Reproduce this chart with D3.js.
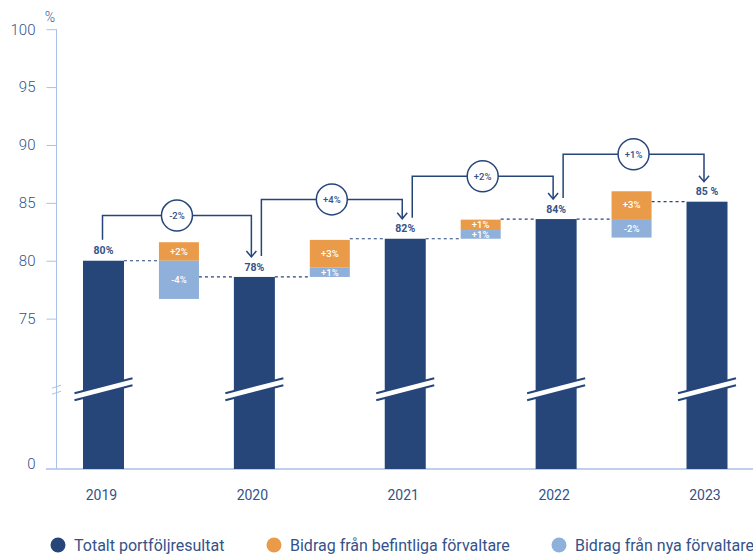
<!DOCTYPE html>
<html>
<head>
<meta charset="utf-8">
<script src="https://cdn.jsdelivr.net/npm/d3@7"></script>
<style>
  body { margin: 0; background: #fff; }
  svg { display: block; font-family: Roboto, "Noto Sans", sans-serif; }
</style>
</head>
<body>
<div id="chart"></div>
<script>
// data
const years = ['2019', '2020', '2021', '2022', '2023'];
const totals = [80.0, 78.6, 81.9, 83.6, 85.1];
const totalLabels = ['80%', '78%', '82%', '84%', '85 %'];
// contributions between two years, [from, to] in %
const existingRange = [[80.0, 81.6], [79.4, 81.8], [82.65, 83.55], [83.6, 86.0]];
const existingLabels = ['+2%', '+3%', '+1%', '+3%'];
const newRange = [[76.7, 80.0], [78.6, 79.4], [81.9, 82.65], [82.0, 83.6]];
const newLabels = ['-4%', '+1%', '+1%', '-2%'];
const changeLabels = ['-2%', '+4%', '+2%', '+1%'];
const changeLevels = [83.9, 85.3, 87.3, 89.2];
const yTicks = [0, 75, 80, 85, 90, 95, 100];
const legendItems = ['Totalt portföljresultat', 'Bidrag från befintliga förvaltare', 'Bidrag från nya förvaltare'];

const width = 753, height = 554;
const navy = '#26467a', orange = '#ea9b4a', light = '#8fb0da', axisColor = '#a9c1e6', textColor = '#34528a';
const barWidth = 41, contribWidth = 40;
const breakValue = 60;

const svg = d3.select('#chart').append('svg')
    .attr('width', width)
    .attr('height', height)
    .attr('viewBox', [0, 0, width, height]);

// broken y scale: 0 at the bottom, 70..100 stretched
const y = d3.scaleLinear().domain([0, 70, 100]).range([469, 376.5, 29.2]);
const x = d3.scalePoint().domain(years).range([103.5, 707]);
const mid = i => (x(years[i]) + x(years[i + 1])) / 2;

// y axis
const yAxis = d3.axisLeft(y).tickValues(yTicks).tickSize(10).tickPadding(11);
svg.append('g')
    .attr('transform', 'translate(56.5,0)')
    .call(yAxis)
    .call(g => g.select('.domain').attr('d', `M0,${y(100)}V${y(0)}`).attr('stroke', axisColor))
    .call(g => g.selectAll('.tick line').attr('stroke', axisColor))
    .call(g => g.selectAll('.tick text')
        .attr('fill', textColor)
        .attr('font-size', 15)
        .attr('font-weight', 300)
        .attr('font-family', 'Roboto, sans-serif')
        .attr('dy', d => d === 0 ? '-0.05em' : '0.32em'))
    .call(g => g.selectAll('.tick').filter(d => d === 0).select('line').remove());

svg.append('text')
    .attr('x', 50).attr('y', 22)
    .attr('text-anchor', 'middle')
    .attr('fill', textColor)
    .attr('font-size', 14)
    .attr('font-weight', 300)
    .text('%');

// axis break marks
const yb = y(breakValue);
[-3, 3].forEach(o => {
    svg.append('line')
        .attr('x1', 52).attr('y1', yb + o + 1.5)
        .attr('x2', 61).attr('y2', yb + o - 1.5)
        .attr('stroke', axisColor).attr('stroke-width', 1);
});

// baseline
svg.append('line')
    .attr('x1', 46).attr('x2', width)
    .attr('y1', y(0)).attr('y2', y(0))
    .attr('stroke', axisColor).attr('stroke-width', 1.5);

// dashed guides
const dash = svg.append('g')
    .attr('stroke', navy).attr('stroke-width', 1.2).attr('stroke-dasharray', '3,3');
d3.range(4).forEach(i => {
    dash.append('line')
        .attr('x1', x(years[i]) + barWidth / 2).attr('x2', mid(i) - contribWidth / 2)
        .attr('y1', y(totals[i])).attr('y2', y(totals[i]));
    dash.append('line')
        .attr('x1', mid(i) + contribWidth / 2).attr('x2', x(years[i + 1]) - barWidth / 2)
        .attr('y1', y(totals[i + 1])).attr('y2', y(totals[i + 1]));
});

// total bars
svg.append('g').attr('fill', navy)
    .selectAll('rect')
    .data(years)
    .join('rect')
    .attr('x', d => x(d) - barWidth / 2)
    .attr('width', barWidth)
    .attr('y', (d, i) => y(totals[i]))
    .attr('height', (d, i) => y(0) - y(totals[i]));

// break on each bar
years.forEach(d => {
    const cx = x(d);
    const g = svg.append('g');
    g.append('path')
        .attr('d', `M${cx - 29},${yb + 7.5}L${cx + 29},${yb - 7.5}L${cx + 29},${yb - 0.5}L${cx - 29},${yb + 14.5}Z`)
        .attr('transform', 'translate(0,-4)')
        .attr('fill', '#fff');
    [-4, 3].forEach(o => {
        g.append('line')
            .attr('x1', cx - 29).attr('y1', yb + o + 7.5)
            .attr('x2', cx + 29).attr('y2', yb + o - 7.5)
            .attr('stroke', navy).attr('stroke-width', 2);
    });
});

// contribution segments
const segs = [];
d3.range(4).forEach(i => {
    segs.push({ i, r: existingRange[i], c: orange, t: existingLabels[i] });
    segs.push({ i, r: newRange[i], c: light, t: newLabels[i] });
});
svg.append('g')
    .selectAll('rect')
    .data(segs)
    .join('rect')
    .attr('x', d => mid(d.i) - contribWidth / 2)
    .attr('width', contribWidth)
    .attr('y', d => y(d3.max(d.r)))
    .attr('height', d => y(d3.min(d.r)) - y(d3.max(d.r)))
    .attr('fill', d => d.c);
svg.append('g')
    .selectAll('text')
    .data(segs)
    .join('text')
    .attr('x', d => mid(d.i))
    .attr('y', d => (y(d.r[0]) + y(d.r[1])) / 2)
    .attr('dy', '0.35em')
    .attr('text-anchor', 'middle')
    .attr('fill', '#fff')
    .attr('font-size', 9.5)
    .attr('font-weight', 500)
    .text(d => d.t);

// value labels
svg.append('g')
    .selectAll('text')
    .data(years)
    .join('text')
    .attr('x', d => x(d))
    .attr('y', (d, i) => y(totals[i]) - 10)
    .attr('dy', '0.35em')
    .attr('text-anchor', 'middle')
    .attr('fill', textColor)
    .attr('font-size', 10.5)
    .attr('font-weight', 700)
    .text((d, i) => totalLabels[i]);

// change connectors
d3.range(4).forEach(i => {
    const x0 = x(years[i]) + (i === 0 ? -1 : 7);
    const x1 = x(years[i + 1]) - 3;
    const yl = y(changeLevels[i]);
    const y0 = y(totals[i]) - 21;
    const y1 = y(totals[i + 1]) - 20;
    const g = svg.append('g').attr('stroke', navy).attr('fill', 'none').attr('stroke-width', 1.5);
    g.append('path').attr('d', `M${x0},${y0}V${yl}H${x1}V${y1}`);
    g.append('path').attr('d', `M${x1 - 5},${y1 - 6}L${x1},${y1}L${x1 + 5},${y1 - 6}`);
    const cx = (x0 + x1) / 2;
    g.append('circle').attr('cx', cx).attr('cy', yl).attr('r', 15.5).attr('fill', '#fff');
    svg.append('text')
        .attr('x', cx).attr('y', yl).attr('dy', '0.35em')
        .attr('text-anchor', 'middle')
        .attr('fill', textColor)
        .attr('font-size', 9.5)
        .attr('font-weight', 500)
        .text(changeLabels[i]);
});

// x labels
svg.append('g')
    .selectAll('text')
    .data(years)
    .join('text')
    .attr('x', d => x(d) - 2)
    .attr('y', 495)
    .attr('dy', '0.35em')
    .attr('text-anchor', 'middle')
    .attr('fill', textColor)
    .attr('font-size', 14)
    .text(d => d);

// legend
const legendX = [58, 274, 559];
const legendColors = [navy, orange, light];
const legend = svg.append('g')
    .selectAll('g')
    .data(legendItems)
    .join('g')
    .attr('transform', (d, i) => `translate(${legendX[i]},545)`);
legend.append('circle').attr('r', 7.5).attr('fill', (d, i) => legendColors[i]);
legend.append('text')
    .attr('x', 16).attr('dy', '0.35em')
    .attr('fill', textColor)
    .attr('font-size', 16)
    .text(d => d);
</script>
</body>
</html>
